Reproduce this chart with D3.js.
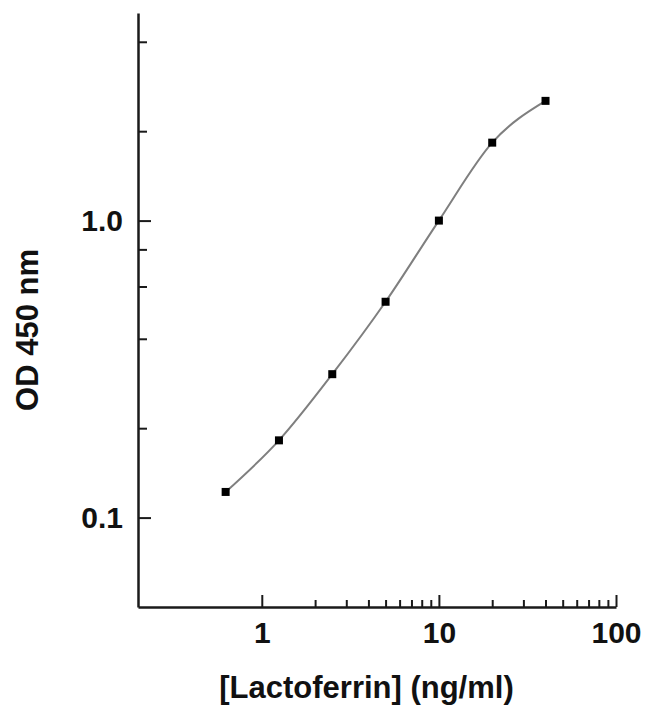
<!DOCTYPE html>
<html lang="en">
	<head>
		<meta charset="utf-8">
		<title>Lactoferrin standard curve</title>
		<style type="text/css">

			body { margin: 0; background: #fff; }

			text { font-family: "Liberation Sans", Arial, sans-serif;
			       font-weight: bold;
			       fill: #111;
			}

			.axis path, .axis line { stroke: #1a1a1a; }
			.axis path { stroke-width: 2.5; }
			.axis line { stroke-width: 2; }

			.curve { fill: none;
			         stroke: #7f7f7f;
			         stroke-width: 2;
			}

			.dot { fill: #000; }

		</style>
	</head>
	<body>

		<!-- load the d3.js library -->
		<script src="https://d3js.org/d3.v7.min.js"></script>
		<script>

			//The data
			var concentration = [0.625, 1.25, 2.5, 5, 10, 20, 40];
			var od450 = [0.122, 0.182, 0.304, 0.533, 1.0, 1.83, 2.53];

			//Tick values and labels
			var xMajorTicks = [1, 10, 100];
			var xMinorTicks = [2, 3, 4, 5, 6, 7, 8, 9, 20, 30, 40, 50, 60, 70, 80, 90];
			var yMajorTicks = [0.1, 1];
			var yMajorLabels = ["0.1", "1.0"];
			var yMinorTicks = [0.2, 0.4, 0.6, 0.8, 2, 4];

			var xDomain = [0.2, 100];
			var yDomain = [0.05, 5];

			//Set the dimensions and margins of the graph
			var margin = {top: 13, right: 34, bottom: 108, left: 138},
			    width = 650 - margin.left - margin.right,
			    height = 715 - margin.top - margin.bottom;

			//Create scale functions
			var xScale = d3.scaleLog()
				  .domain(xDomain)
				  .range([0, width]);

			var yScale = d3.scaleLog()
				  .domain(yDomain)
				  .range([height, 0]);

			var svg = d3.select("body").append("svg")
			    .attr("width", width + margin.left + margin.right)
			    .attr("height", height + margin.top + margin.bottom)
			    .append("g")
			    .attr("transform",
				  "translate(" + margin.left + "," + margin.top + ")");

			var data = concentration.map(function(c, i) {
			  return {x: c, y: od450[i]};
			});

			//Minor ticks first, no labels, ticks point inside
			svg.append("g")
			    .attr("class", "axis")
			    .attr("transform", "translate(0," + height + ")")
			    .call(d3.axisBottom(xScale)
			      .tickValues(xMinorTicks)
			      .tickSizeInner(-7)
			      .tickSizeOuter(0)
			      .tickFormat(""))
			    .select(".domain").remove();

			svg.append("g")
			    .attr("class", "axis")
			    .call(d3.axisLeft(yScale)
			      .tickValues(yMinorTicks)
			      .tickSizeInner(-9)
			      .tickSizeOuter(0)
			      .tickFormat(""))
			    .select(".domain").remove();

			//Major ticks with labels
			var xAxis = svg.append("g")
			    .attr("class", "axis")
			    .attr("transform", "translate(0," + height + ")")
			    .call(d3.axisBottom(xScale)
			      .tickValues(xMajorTicks)
			      .tickSizeInner(-12)
			      .tickSizeOuter(0)
			      .tickPadding(15)
			      .tickFormat(d3.format("d")));

			var yAxis = svg.append("g")
			    .attr("class", "axis")
			    .call(d3.axisLeft(yScale)
			      .tickValues(yMajorTicks)
			      .tickSizeInner(-13)
			      .tickSizeOuter(0)
			      .tickPadding(15)
			      .tickFormat(function(d, i) { return yMajorLabels[i]; }));

			svg.selectAll(".axis text")
			    .attr("font-size", 30)
			    .attr("font-family", "Liberation Sans, Arial, sans-serif")
			    .attr("font-weight", "bold")
			    .attr("fill", "#111");

			//Fitted curve through the points
			var line = d3.line()
			    .x(function(d) { return xScale(d.x); })
			    .y(function(d) { return yScale(d.y); })
			    .curve(d3.curveMonotoneX);

			svg.append("path")
			    .datum(data)
			    .attr("class", "curve")
			    .attr("d", line);

			//Square markers
			svg.selectAll(".dot")
			    .data(data)
			  .enter().append("rect")
			    .attr("class", "dot")
			    .attr("x", function(d) { return xScale(d.x) - 4; })
			    .attr("y", function(d) { return yScale(d.y) - 4; })
			    .attr("width", 8)
			    .attr("height", 8);

			//Axis titles
			svg.append("text")
			    .attr("text-anchor", "middle")
			    .attr("font-size", 31)
			    .attr("x", 366.5 - margin.left)
			    .attr("y", height + 91)
			    .text("[Lactoferrin] (ng/ml)");

			svg.append("text")
			    .attr("text-anchor", "middle")
			    .attr("font-size", 31)
			    .attr("transform", "translate(" + (38 - margin.left) + "," + (330 - margin.top) + ") rotate(-90)")
			    .text("OD 450 nm");

	</script>
	</body>
</html>
